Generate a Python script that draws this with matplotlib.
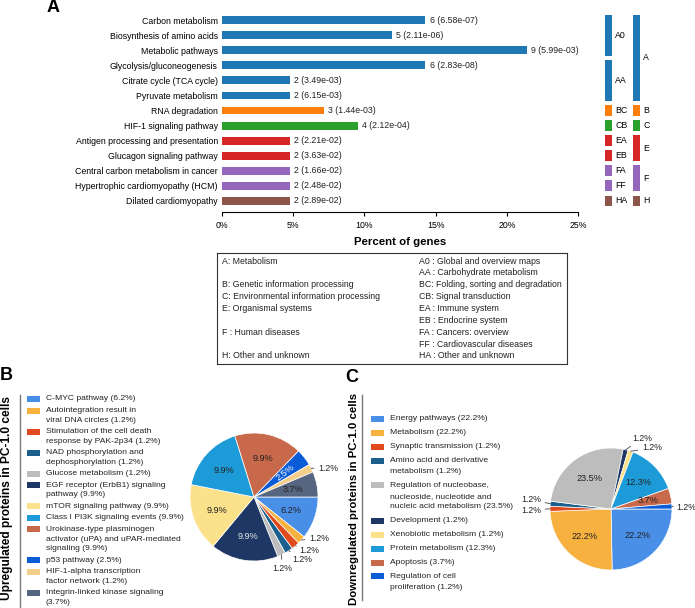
## libraries
from itertools import groupby
import numpy as np
import matplotlib
matplotlib.use("Agg")
import matplotlib.pyplot as plt
from matplotlib.patches import Rectangle

plt.rcParams['font.family'] = ['Liberation Sans', 'DejaVu Sans']

## panel A data (KEGG pathways)
pathways = ["Carbon metabolism", "Biosynthesis of amino acids", "Metabolic pathways",
            "Glycolysis/gluconeogenesis", "Citrate cycle (TCA cycle)", "Pyruvate metabolism",
            "RNA degradation", "HIF-1 signaling pathway", "Antigen processing and presentation",
            "Glucagon signaling pathway", "Central carbon metabolism in cancer",
            "Hypertrophic cardiomyopathy (HCM)", "Dilated cardiomyopathy"]
gene_counts = [6, 5, 9, 6, 2, 2, 3, 4, 2, 2, 2, 2, 2]
pvalues = ["6.58e-07", "2.11e-06", "5.99e-03", "2.83e-08", "3.49e-03", "6.15e-03", "1.44e-03",
           "2.12e-04", "2.21e-02", "3.63e-02", "1.66e-02", "2.48e-02", "2.89e-02"]
total_genes = 42
main_class = ["A", "A", "A", "A", "A", "A", "B", "C", "E", "E", "F", "F", "H"]
sub_class = ["A0", "A0", "A0", "AA", "AA", "AA", "BC", "CB", "EA", "EB", "FA", "FF", "HA"]
class_colors = {"A": "#1f77b4", "B": "#ff7f0e", "C": "#2ca02c",
                "E": "#d62728", "F": "#9467bd", "H": "#8c564b"}

key_left = ["A: Metabolism", "", "B: Genetic information processing",
            "C: Environmental information processing", "E: Organismal systems", "",
            "F : Human diseases", "", "H: Other and unknown"]
key_right = ["A0 : Global and overview maps", "AA : Carbohydrate metabolism",
             "BC: Folding, sorting and degradation", "CB: Signal transduction",
             "EA : Immune system", "EB : Endocrine system", "FA : Cancers: overview",
             "FF : Cardiovascular diseases", "HA : Other and unknown"]

## panel B data (upregulated)
up_labels = ["C-MYC pathway (6.2%)",
             "Autointegration result in\nviral DNA circles (1.2%)",
             "Stimulation of the cell death\nresponse by PAK-2p34 (1.2%)",
             "NAD phosphorylation and\ndephosphorylation (1.2%)",
             "Glucose metabolism (1.2%)",
             "EGF receptor (ErbB1) signaling\npathway (9.9%)",
             "mTOR signaling pathway (9.9%)",
             "Class I PI3K signaling events (9.9%)",
             "Urokinase-type plasminogen\nactivator (uPA) and uPAR-mediated\nsignaling (9.9%)",
             "p53 pathway (2.5%)",
             "HIF-1-alpha transcription\nfactor network (1.2%)",
             "Integrin-linked kinase signaling\n(3.7%)"]
up_values = [6.2, 1.2, 1.2, 1.2, 1.2, 9.9, 9.9, 9.9, 9.9, 2.5, 1.2, 3.7]
up_colors = ["#4a8fe7", "#f7b13f", "#e04a1c", "#1b5f8c", "#bdbdbd", "#1e3765",
             "#fbe18a", "#1d9bd8", "#c9694b", "#0a5bd6", "#f3cf8b", "#576680"]

## panel C data (downregulated)
down_labels = ["Energy pathways (22.2%)", "Metabolism (22.2%)", "Synaptic transmission (1.2%)",
               "Amino acid and derivative\nmetabolism (1.2%)",
               "Regulation of nucleobase,\nnucleoside, nucleotide and\nnucleic acid metabolism (23.5%)",
               "Development (1.2%)", "Xenobiotic metabolism (1.2%)", "Protein metabolism (12.3%)",
               "Apoptosis (3.7%)", "Regulation of cell\nproliferation (1.2%)"]
down_values = [22.2, 22.2, 1.2, 1.2, 23.5, 1.2, 1.2, 12.3, 3.7, 1.2]
down_colors = ["#4a8fe7", "#f7b13f", "#e04a1c", "#1b5f8c", "#bdbdbd", "#1e3765",
               "#fbe18a", "#1d9bd8", "#c9694b", "#0a5bd6"]

## layout
W, H = 695, 608
fig = plt.figure(figsize=(W / 100, H / 100), dpi=100)
FS = 6.3


def px_axes(x0, y0, x1, y1):
    return fig.add_axes([x0 / W, 1 - y1 / H, (x1 - x0) / W, (y1 - y0) / H])


## overlay in pixel coords for letters, side labels and keys
ov = fig.add_axes([0, 0, 1, 1])
ov.set_xlim(0, W)
ov.set_ylim(H, 0)
ov.axis("off")
ov.patch.set_alpha(0)

## A: bar chart
ax = px_axes(222, 12.5, 578, 212.3)
rows = np.arange(len(pathways))
pct = np.array(gene_counts) / total_genes * 100
ax.barh(rows, pct, height=0.52, color=[class_colors[c] for c in main_class])
for r, p, n, pv in zip(rows, pct, gene_counts, pvalues):
    ax.annotate(f"{n} ({pv})", (p, r), xytext=(3, 0), textcoords="offset points",
                va="center", ha="left", fontsize=FS, color="#222")
ax.set_ylim(12.75, -0.5)
ax.set_xlim(0, 25)
ax.set_yticks(rows)
ax.set_yticklabels(pathways, fontsize=FS)
ax.tick_params(axis="y", length=0, pad=3)
ticks = list(range(0, 26, 5))
ax.set_xticks(ticks)
ax.set_xticklabels([f"{t}%" for t in ticks], fontsize=FS)
ax.tick_params(axis="x", length=3, width=0.8, pad=3.5)
for s in ["top", "right", "left"]:
    ax.spines[s].set_visible(False)
ax.spines["bottom"].set_linewidth(0.8)
ax.set_xlabel("Percent of genes", fontsize=8.2, fontweight="bold", labelpad=5)

## A: class blocks on the right
axc = px_axes(600, 12.5, 695, 212.3)
axc.set_xlim(0, 95)
axc.set_ylim(12.75, -0.5)
axc.axis("off")
for col_x, classes in [(8.5, sub_class), (36.5, main_class)]:
    start = 0
    for key, grp in groupby(classes):
        n = len(list(grp))
        axc.bar(col_x, n - 0.28, bottom=start - 0.5 + 0.14, width=7,
                color=class_colors[key[0]])
        axc.text(col_x + 6.5, start + (n - 1) / 2, key, va="center", ha="left", fontsize=FS)
        start += n

## A: key box
axk = px_axes(217, 253, 567, 364)
axk.set_xlim(0, 350)
axk.set_ylim(111, 0)
axk.set_xticks([])
axk.set_yticks([])
for s in axk.spines.values():
    s.set_linewidth(0.8)
    s.set_color("#333")
for i, (l, r) in enumerate(zip(key_left, key_right)):
    y = 8 + 11.875 * i
    axk.text(5, y, l, va="center", ha="left", fontsize=FS, color="#222")
    axk.text(202, y, r, va="center", ha="left", fontsize=FS, color="#222")

## panel letters and side titles
ov.text(53, 7.5, "A", fontsize=13, fontweight="bold", ha="center", va="center")
ov.text(6, 376, "B", fontsize=13, fontweight="bold", ha="center", va="center")
ov.text(352, 377, "C", fontsize=13, fontweight="bold", ha="center", va="center")
ov.text(7.5, 498, "Upregulated proteins in PC-1.0 cells", rotation=90, fontsize=8.6,
        fontweight="bold", ha="center", va="center")
ov.text(354, 499, "Downregulated proteins in PC-1.0 cells", rotation=90, fontsize=8.2,
        fontweight="bold", ha="center", va="center")
ov.plot([20, 20], [395, 607], color="#777", lw=1)
ov.plot([362, 362], [395, 600], color="#777", lw=1)


def draw_key(labels, colors, x_patch, y0, line_h, entry_step):
    y = y0
    for lab, col in zip(labels, colors):
        lines = lab.split("\n")
        ov.add_patch(Rectangle((x_patch, y - 3), 13, 6, color=col, lw=0))
        for j, line in enumerate(lines):
            ov.text(x_patch + 18.5, y + j * line_h, line, va="center", ha="left",
                    fontsize=6.1, color="#222")
        y += (len(lines) - 1) * line_h + entry_step


draw_key(up_labels, up_colors, 27, 399, 9.6, 11.5)
draw_key(down_labels, down_colors, 371, 419, 10.8, 13.9)


def draw_pie(ax, values, colors, outer_pos, light, rotate):
    wedges, _ = ax.pie(values, colors=colors, startangle=0, counterclock=False,
                       wedgeprops=dict(edgecolor="white", linewidth=0.5))
    k = 0
    for i, (w, v) in enumerate(zip(wedges, values)):
        mid = (w.theta1 + w.theta2) / 2
        a = np.deg2rad(mid)
        txt = f"{v}%"
        if v < 2:
            tx, ty = outer_pos[k]
            k += 1
            ax.annotate(txt, xy=(np.cos(a), np.sin(a)), xytext=(tx, ty), ha="center",
                        va="center", fontsize=FS, color="#222",
                        arrowprops=dict(arrowstyle="-", color="#444", lw=0.6,
                                        shrinkA=1, shrinkB=0))
        else:
            col = light.get(i, "#222")
            ax.text(0.62 * np.cos(a), 0.62 * np.sin(a), txt, ha="center", va="center",
                    fontsize=6.6, color=col, rotation=mid if i in rotate else 0)


## B pie
axb = px_axes(254 - 80, 497 - 80, 254 + 80, 497 + 80)
draw_pie(axb, up_values, up_colors,
         [(1.016, -0.656), (0.86, -0.84), (0.75, -0.98), (0.44, -1.11), (1.156, 0.453)],
         {5: "#e6e6e6", 9: "white"}, {9})

## C pie
axp = px_axes(611 - 76.25, 509 - 76.25, 611 + 76.25, 509 + 76.25)
draw_pie(axp, down_values, down_colors,
         [(-1.31, -0.02), (-1.31, 0.15), (0.51, 1.16), (0.67, 1.0), (1.23, 0.03)],
         {}, set())

plt.savefig("out.png", dpi=100)
plt.close()
